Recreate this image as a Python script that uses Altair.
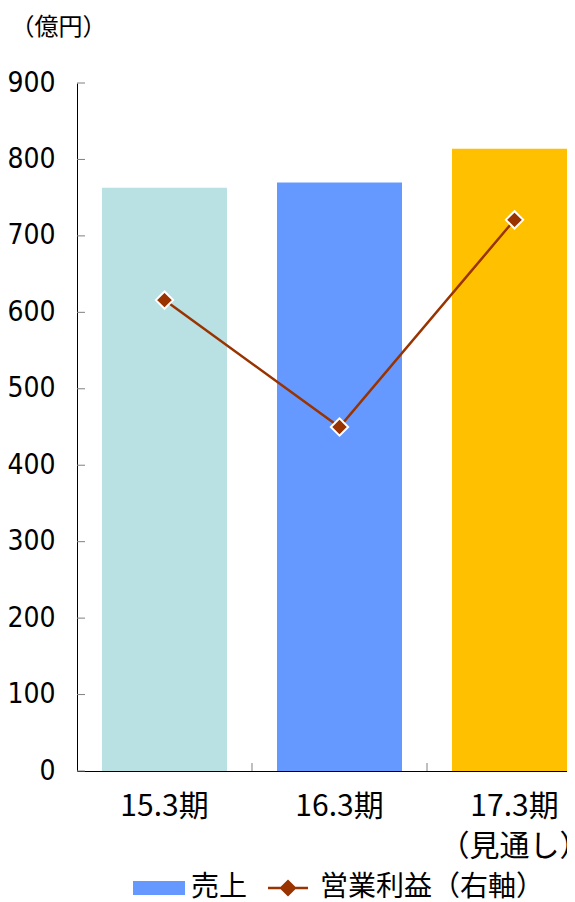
import altair as alt
import pandas as pd

categories = ["15.3期", "16.3期", "17.3期\n（見通し）"]
sales = [763, 770, 814]
profit = [61.6, 45.0, 72.1]
bar_colors = ["#B9E0E3", "#6699FF", "#FFC000"]
series = ["売上", "営業利益（右軸）"]
series_colors = ["#6699FF", "#993300"]
y_ticks = [0, 100, 200, 300, 400, 500, 600, 700, 800, 900]
boundaries = ["16.3期", "17.3期\n（見通し）"]

df = pd.DataFrame({"cat": categories, "sales": sales, "profit": profit, "color": bar_colors})
tick_df = pd.DataFrame({"v": y_ticks})
bound_df = pd.DataFrame({"cat": boundaries})
leg_df = pd.DataFrame({"series": series})

JP = "Noto Sans CJK JP"
NUM = "Liberation Sans Narrow, DejaVu Sans Condensed, Roboto Condensed, Noto Sans CJK JP"

xscale = alt.Scale(domain=categories, range=[0, 525], paddingInner=0.2857, paddingOuter=0.1428)
xaxis = alt.Axis(title=None, labelAngle=0, ticks=False, grid=False, domainColor="black",
                 domainWidth=1, labelFont=JP, labelFontSize=30, labelColor="black",
                 labelPadding=20, labelLineHeight=40, labelBound=False, labelOverlap=False,
                 labelExpr="split(datum.label, '\\n')")

bars = alt.Chart(df).mark_bar(clip=True).encode(
    x=alt.X("cat:N", sort=categories, scale=xscale, axis=xaxis),
    y=alt.Y("sales:Q", scale=alt.Scale(domain=[0, 900], nice=False),
            axis=alt.Axis(values=y_ticks, ticks=False, grid=False, domainColor="black",
                          domainWidth=1, labelFont=NUM, labelFontSize=28, labelColor="black",
                          labelPadding=22, title="（億円）", titleAngle=0, titleX=-67,
                          titleY=-56, titleAlign="left", titleBaseline="middle",
                          titleFont=JP, titleFontSize=24, titleFontWeight="normal",
                          titleColor="black")),
    fill=alt.Fill("color:N", scale=None),
)

xticks = alt.Chart(bound_df).mark_rule(color="#808080", strokeWidth=1, xOffset=-25, clip=True).encode(
    x=alt.X("cat:N", sort=categories, scale=xscale, bandPosition=0),
    y=alt.value(680), y2=alt.value(688),
)

yticks = alt.Chart(tick_df).mark_rule(color="#808080", strokeWidth=1).encode(
    y=alt.Y("v:Q", scale=alt.Scale(domain=[0, 900], nice=False), axis=None),
    x=alt.value(0), x2=alt.value(8),
)

line = alt.Chart(df).mark_line(color="#993300", strokeWidth=2.5).encode(
    x=alt.X("cat:N", sort=categories, scale=xscale),
    y=alt.Y("profit:Q", scale=alt.Scale(domain=[0, 90], nice=False), axis=None),
)

points = alt.Chart(df).mark_point(shape="diamond", filled=True, fill="#993300", stroke="white",
                                  strokeWidth=2, size=300, opacity=1).encode(
    x=alt.X("cat:N", sort=categories, scale=xscale),
    y=alt.Y("profit:Q", scale=alt.Scale(domain=[0, 90], nice=False), axis=None),
)

rect_path = "M-1,-0.27L1,-0.27L1,0.27L-1,0.27Z"
line_path = "M-0.77,-0.05L0.77,-0.05L0.77,0.05L-0.77,0.05Z M0,-0.33L0.33,0L0,0.33L-0.33,0Z"
leg = alt.Legend(orient="none", legendX=56, legendY=779, direction="horizontal", title=None,
                 labelFont=JP, labelFontSize=28, labelColor="black", symbolSize=2704,
                 labelOffset=6, columnPadding=14, symbolStrokeWidth=0, symbolOpacity=1,
                 labelLimit=500)

legend_layer = alt.Chart(leg_df).mark_point(filled=True, opacity=1).encode(
    color=alt.Color("series:N", scale=alt.Scale(domain=series, range=series_colors), legend=leg),
    shape=alt.Shape("series:N", scale=alt.Scale(domain=series, range=[rect_path, line_path]), legend=leg),
).transform_filter("false")

chart = alt.layer(bars, xticks, yticks, line, points, legend_layer).resolve_scale(
    y="independent"
).properties(
    width=490, height=688,
    autosize=alt.AutoSizeParams(type="none"),
    padding={"left": 69, "top": 75, "right": 0, "bottom": 140},
).configure_view(strokeWidth=0)

chart.save("out.html", embed_options={"renderer": "svg", "actions": False})
